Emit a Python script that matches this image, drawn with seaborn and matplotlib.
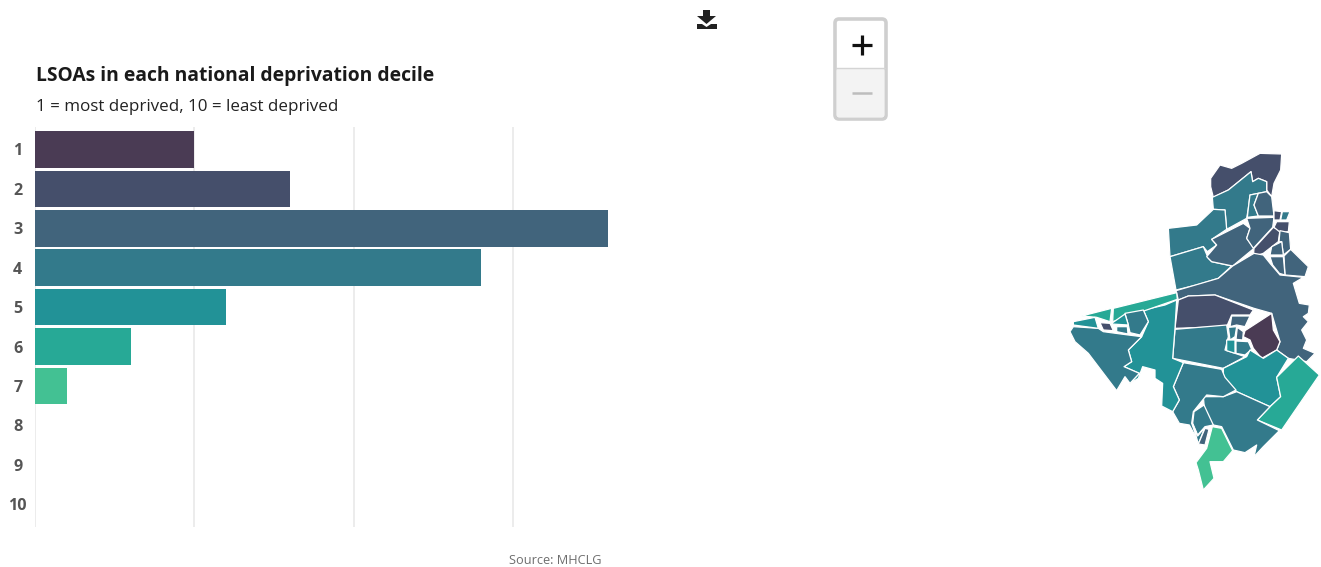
import matplotlib
matplotlib.use('Agg')
import matplotlib.pyplot as plt
from matplotlib.patches import FancyBboxPatch, Polygon
import pandas as pd
import seaborn as sns

deciles = ['1', '2', '3', '4', '5', '6', '7', '8', '9', '10']
lsoa_counts = [5, 8, 18, 14, 6, 3, 1, 0, 0, 0]
decile_colors = ['#4a3b54', '#454f6b', '#41647c', '#337a8b', '#229297', '#27a996', '#43c193',
                 '#6fd38c', '#a3e089', '#d5ec8e']
x_ticks = [0, 5, 10, 15]

title = 'LSOAs in each national deprivation decile'
subtitle = '1 = most deprived, 10 = least deprived'
source = 'Source: MHCLG'

# map outlines, (decile, vertices)
map_areas = [
    (2, [(482, 115), (510, 75), (545, 85), (575, 70), (630, 40), (695, 42), (692, 90), (672, 130), (665, 170),
         (650, 150), (650, 125), (625, 115), (608, 125), (603, 95), (560, 130), (535, 150), (490, 172), (482, 140)]),
    (4, [(487, 172), (535, 150), (603, 95), (608, 125), (625, 115), (650, 125), (650, 155), (600, 165), (595, 205),
         (590, 235), (530, 268), (525, 210), (490, 208)]),
    (4, [(600, 165), (625, 160), (612, 195), (625, 228), (592, 232), (595, 205)]),
    (3, [(625, 160), (650, 155), (665, 170), (672, 228), (625, 228), (612, 195)]),
    (4, [(355, 265), (440, 255), (490, 208), (525, 210), (530, 268), (485, 298), (500, 315), (472, 335), (460, 320),
         (360, 350)]),
    (4, [(360, 350), (460, 320), (475, 355), (485, 365), (545, 378), (505, 415), (440, 435), (378, 450)]),
    (3, [(485, 298), (580, 250), (600, 265), (590, 295), (612, 325), (548, 378), (485, 365), (470, 350), (500, 315)]),
    (3, [(590, 235), (672, 232), (668, 262), (610, 325), (590, 295), (600, 265)]),
    (2, [(610, 350), (612, 325), (670, 262), (690, 270), (685, 305), (640, 340)]),
    (2, [(672, 212), (695, 215), (690, 240), (672, 240)]),
    (4, [(697, 215), (720, 215), (710, 240), (692, 240)]),
    (2, [(680, 245), (718, 245), (715, 275), (692, 278), (672, 262)]),
    (3, [(690, 272), (718, 278), (722, 328), (700, 345), (695, 305), (687, 305)]),
    (3, [(665, 320), (695, 305), (700, 345), (660, 345)]),
    (3, [(722, 328), (775, 380), (765, 410), (705, 405), (702, 348)]),
    (3, [(660, 350), (700, 350), (705, 405), (688, 400), (668, 375)]),
    (3, [(378, 452), (505, 415), (548, 378), (612, 340), (640, 345), (660, 370), (690, 405), (760, 412), (730, 430),
         (748, 490), (778, 495), (775, 520), (760, 530), (775, 545), (755, 570), (770, 600), (760, 625), (795, 640),
         (770, 665), (715, 655), (680, 630), (690, 605), (665, 520), (612, 505), (495, 465), (415, 468), (385, 480)]),
    (2, [(385, 480), (415, 468), (495, 465), (610, 510), (600, 525), (545, 525), (530, 560), (375, 565)]),
    (1, [(585, 572), (665, 520), (670, 570), (690, 605), (680, 630), (635, 655), (610, 625), (600, 600), (580, 590)]),
    (4, [(375, 568), (530, 555), (535, 590), (525, 630), (585, 650), (520, 685), (368, 655)]),
    (3, [(545, 528), (600, 528), (585, 560), (560, 555), (540, 560)]),
    (4, [(535, 562), (560, 560), (555, 590), (540, 600)]),
    (3, [(562, 562), (580, 575), (578, 600), (558, 598)]),
    (5, [(530, 600), (555, 600), (555, 640), (530, 632)]),
    (4, [(558, 603), (595, 605), (605, 628), (585, 645), (558, 640)]),
    (5, [(520, 685), (590, 650), (600, 630), (640, 655), (680, 630), (715, 655), (680, 712), (692, 770), (660, 800),
         (560, 755), (520, 710)]),
    (6, [(745, 648), (808, 705), (695, 870), (622, 840), (660, 800), (692, 770), (680, 712)]),
    (4, [(560, 755), (660, 800), (622, 840), (688, 872), (640, 920), (612, 950), (620, 915), (585, 938), (550, 930),
         (515, 860), (490, 855), (465, 825), (460, 770), (520, 770)]),
    (4, [(400, 668), (515, 688), (525, 712), (558, 750), (520, 770), (470, 765), (430, 815), (425, 850), (445, 905),
         (418, 855), (388, 850), (368, 815), (388, 780), (370, 740)]),
    (4, [(462, 795), (490, 855), (465, 860), (443, 885), (428, 850), (432, 815)]),
    (4, [(428, 852), (443, 888), (465, 862), (445, 912)]),
    (7, [(487, 860), (515, 865), (548, 932), (520, 965), (480, 965), (492, 1015), (460, 1050), (445, 990), (438, 968),
         (470, 925)]),
    (3, [(445, 912), (465, 865), (477, 868), (465, 915)]),
    (5, [(380, 480), (375, 565), (368, 655), (400, 668), (370, 740), (388, 780), (368, 815), (335, 798), (338, 730),
         (315, 715), (315, 690), (278, 680), (265, 715), (240, 730), (268, 700), (222, 680), (245, 665), (235, 630),
         (275, 590), (295, 545), (280, 510), (345, 495)]),
    (4, [(60, 575), (70, 560), (145, 565), (160, 575), (235, 585), (275, 590), (235, 630), (245, 665), (222, 680),
         (268, 700), (240, 730), (225, 710), (200, 752), (115, 640), (75, 605)]),
    (6, [(190, 505), (380, 458), (382, 478), (290, 510), (188, 545)]),
    (6, [(95, 528), (185, 505), (180, 545), (140, 532)]),
    (5, [(70, 545), (135, 532), (145, 565), (70, 555)]),
    (4, [(225, 520), (280, 510), (295, 545), (270, 585), (240, 578), (235, 555)]),
    (5, [(188, 548), (225, 522), (235, 555), (185, 552)]),
    (4, [(200, 560), (232, 560), (234, 582), (200, 575)]),
    (2, [(150, 548), (180, 550), (190, 572), (160, 570)]),
]

# pictogram shapes for the export button
icon_arrow = [(703, 10), (710, 10), (710, 16), (716, 16), (706.5, 24), (697, 16), (703, 16)]
icon_tray = [(697, 24), (702, 24), (706.5, 27), (711, 24), (717, 24), (717, 29), (697, 29)]

W, H = 1321, 567
fig = plt.figure(figsize=(W / 100, H / 100), dpi=100)
plt.rcParams['font.family'] = ['Open Sans', 'DejaVu Sans']


def px_axes(x0, y0, x1, y1):
    return fig.add_axes([x0 / W, 1 - y1 / H, (x1 - x0) / W, (y1 - y0) / H])


# ---------------------- bars ---------------------- #
ax = px_axes(35, 127, 640, 527)
df = pd.DataFrame({'decile': deciles, 'count': lsoa_counts})
sns.barplot(data=df, x='count', y='decile', hue='decile', order=deciles, hue_order=deciles,
            palette=decile_colors, width=0.93, saturation=1, legend=False, ax=ax, zorder=3)
ax.set_xlim(0, 605 / 31.86)
ax.set_ylim(9.58, -0.57)
ax.set_xticks(x_ticks)
ax.set_xticklabels([])
ax.grid(axis='x', color='#e9e9e9', linewidth=1.2, zorder=0)
ax.set_axisbelow(True)
ax.set_xlabel('')
ax.set_ylabel('')
ax.tick_params(length=0)
ax.tick_params(axis='y', pad=12.4, labelsize=11.6, labelcolor='#555555')
for lab in ax.get_yticklabels():
    lab.set_ha('center')
    lab.set_fontweight('bold')
sns.despine(ax=ax, left=True, bottom=True)

fig.text(36 / W, 1 - 76 / H, title, fontsize=13.86, fontweight='bold', color='#1a1a1a', va='center', ha='left')
fig.text(36 / W, 1 - 107 / H, subtitle, fontsize=12.25, color='#222222', va='center', ha='left')
fig.text(555.5 / W, 1 - 560 / H, source, fontsize=9.2, color='#6e6e6e', va='center', ha='center')

# ---------------------- map ---------------------- #
map_ax = px_axes(1050, 140, 1330, 500)
map_ax.set_xlim(0, 840)
map_ax.set_ylim(1080, 0)
map_ax.axis('off')
for decile, verts in map_areas:
    map_ax.add_patch(Polygon(verts, closed=True, facecolor=decile_colors[decile - 1], edgecolor='white',
                             linewidth=0.9, joinstyle='round'))

# ---------------------- page controls ---------------------- #
ui = px_axes(0, 0, W, H)
ui.set_xlim(0, W)
ui.set_ylim(H, 0)
ui.axis('off')
ui.patch.set_alpha(0)
ui.add_patch(Polygon(icon_arrow, closed=True, facecolor='#222222', edgecolor='none'))
ui.add_patch(Polygon(icon_tray, closed=True, facecolor='#222222', edgecolor='none'))

ui.add_patch(FancyBboxPatch((835, 19), 51, 100, boxstyle='round,pad=0,rounding_size=4',
                            facecolor='white', edgecolor='#cfcfcf', linewidth=2.6))
ui.add_patch(FancyBboxPatch((836.5, 68), 48, 49.5, boxstyle='round,pad=0,rounding_size=3',
                            facecolor='#f3f3f3', edgecolor='none'))
ui.plot([836, 885], [68, 68], color='#d4d4d4', linewidth=1)
ui.plot([852, 872], [45, 45], color='#111111', linewidth=2.3, solid_capstyle='butt')
ui.plot([862, 862], [35, 55], color='#111111', linewidth=2.3, solid_capstyle='butt')
ui.plot([852, 872], [93, 93], color='#bdbdbd', linewidth=1.8, solid_capstyle='butt')

fig.savefig('out.png', dpi=100, facecolor='white')
